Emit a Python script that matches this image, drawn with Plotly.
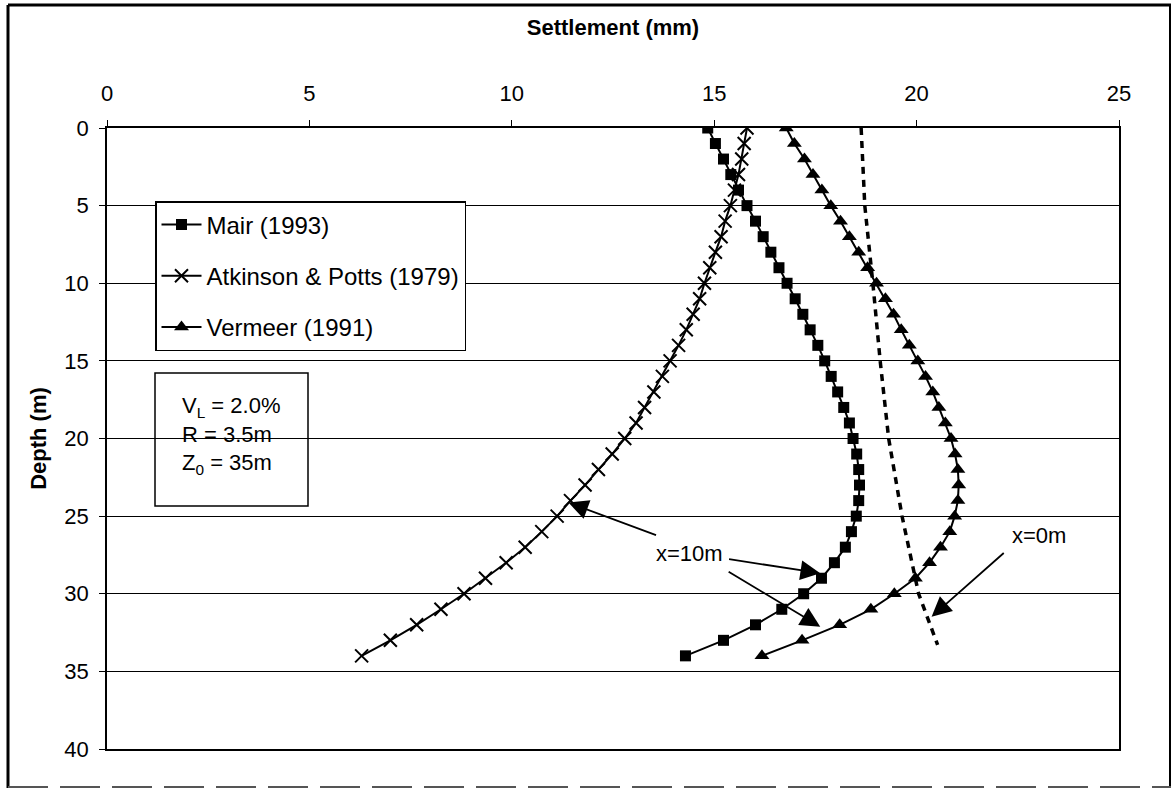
import plotly.graph_objects as go

# ---- data ----
depth = list(range(0, 35))
mair = [14.84, 15.03, 15.23, 15.41, 15.60, 15.81, 16.02, 16.21, 16.40, 16.60,
        16.80, 17.00, 17.19, 17.37, 17.56, 17.73, 17.89, 18.05, 18.20, 18.34,
        18.43, 18.52, 18.57, 18.59, 18.57, 18.51, 18.39, 18.24, 17.97, 17.65,
        17.21, 16.67, 16.02, 15.23, 14.29]
atkinson = [15.81, 15.74, 15.68, 15.60, 15.50, 15.40, 15.27, 15.17, 15.03, 14.89,
            14.76, 14.64, 14.48, 14.31, 14.12, 13.91, 13.72, 13.51, 13.28, 13.07,
            12.79, 12.48, 12.14, 11.81, 11.45, 11.12, 10.74, 10.33, 9.86, 9.35,
            8.82, 8.25, 7.65, 7.00, 6.29]
vermeer = [16.78, 16.98, 17.23, 17.44, 17.66, 17.88, 18.12, 18.34, 18.57, 18.79,
           19.01, 19.23, 19.43, 19.62, 19.82, 20.03, 20.22, 20.40, 20.55, 20.71,
           20.85, 20.95, 21.02, 21.04, 21.02, 20.94, 20.82, 20.59, 20.32, 19.97,
           19.45, 18.87, 18.10, 17.17, 16.18]
dash_depth = [0, 5, 10, 15, 20, 25, 30, 33.3]
dash_x = [18.63, 18.72, 18.92, 19.10, 19.31, 19.64, 20.05, 20.52]

x_ticks = [0, 5, 10, 15, 20, 25]
y_ticks = [0, 5, 10, 15, 20, 25, 30, 35, 40]

FONT = "Arial, Liberation Sans, sans-serif"

fig = go.Figure()
fig.add_trace(go.Scatter(
    x=mair, y=depth, mode="lines+markers", name="Mair (1993)",
    line=dict(color="black", width=2),
    marker=dict(symbol="square", size=11, color="black"),
    legendgroup="a"))
fig.add_trace(go.Scatter(
    x=atkinson, y=depth, mode="lines+markers", name="Atkinson & Potts (1979)",
    line=dict(color="black", width=2),
    marker=dict(symbol="x-thin-open", size=13, color="black",
                line=dict(color="black", width=2)),
    legendgroup="b"))
fig.add_trace(go.Scatter(
    x=vermeer, y=depth, mode="lines+markers", name="Vermeer (1991)",
    line=dict(color="black", width=2),
    marker=dict(symbol="triangle-up", size=13, color="black"),
    legendgroup="c"))
fig.add_trace(go.Scatter(
    x=dash_x, y=dash_depth, mode="lines", showlegend=False,
    line=dict(color="black", width=3.5, dash="7px,6px")))

# annotations
annos = []
annos.append(dict(x=14.39, y=27.38, xref="x", yref="y", text="x=10m",
                  showarrow=False, font=dict(size=22, color="black", family=FONT)))
annos.append(dict(x=23.03, y=26.22, xref="x", yref="y", text="x=0m",
                  showarrow=False, font=dict(size=22, color="black", family=FONT)))
arrows = [
    ((13.60, 26.26), (11.40, 24.13)),
    ((15.33, 27.76), (17.62, 28.68)),
    ((15.32, 28.53), (17.62, 32.12)),
    ((22.19, 27.29), (20.37, 31.48)),
]
for (tx, ty), (hx, hy) in arrows:
    annos.append(dict(x=hx, y=hy, ax=tx, ay=ty, xref="x", yref="y",
                      axref="x", ayref="y", text="", showarrow=True,
                      arrowhead=2, arrowsize=2.2, arrowwidth=1.8,
                      arrowcolor="black", standoff=0))
annos.append(dict(x=(180 - 107) / 1012, y=(749 - 435) / 621, xref="paper", yref="paper",
                  xanchor="left", yanchor="middle", align="left", showarrow=False,
                  text="V<sub>L</sub> = 2.0%<br>R = 3.5m<br>Z<sub>0</sub> = 35m",
                  font=dict(size=22, color="black", family=FONT)))

def px_x(p):
    return (p - 107) / 1012

def px_y(p):
    return (749 - p) / 621

shapes = [
    # parameter box
    dict(type="rect", xref="paper", yref="paper",
         x0=px_x(155), x1=px_x(308), y0=px_y(506), y1=px_y(373),
         line=dict(color="black", width=1.5), fillcolor="white", layer="below"),
    # outer frame
    dict(type="line", xref="paper", yref="paper", x0=px_x(8), x1=px_x(1171),
         y0=px_y(5), y1=px_y(5), line=dict(color="black", width=3)),
    dict(type="line", xref="paper", yref="paper", x0=px_x(8), x1=px_x(8),
         y0=px_y(5), y1=px_y(788), line=dict(color="black", width=3)),
    dict(type="line", xref="paper", yref="paper", x0=px_x(1170), x1=px_x(1170),
         y0=px_y(5), y1=px_y(788), line=dict(color="black", width=2)),
    dict(type="line", xref="paper", yref="paper", x0=px_x(8), x1=px_x(1171),
         y0=px_y(787), y1=px_y(787), line=dict(color="#555555", width=2, dash="40px,12px")),
]

fig.update_layout(
    width=1172, height=788,
    margin=dict(l=107, r=53, t=128, b=39),
    paper_bgcolor="white", plot_bgcolor="white",
    font=dict(family=FONT, size=22, color="black"),
    showlegend=True,
    legend=dict(x=px_x(155), y=px_y(201), xanchor="left", yanchor="top",
                bgcolor="white", bordercolor="black", borderwidth=1.5,
                font=dict(size=24, family=FONT, color="black"),
                itemwidth=40,
                tracegroupgap=17, traceorder="grouped"),
    annotations=annos,
    shapes=shapes,
    xaxis=dict(side="top", range=[0, 25], tickvals=x_ticks, ticks="outside",
               ticklen=6, tickcolor="black", showgrid=False, zeroline=False,
               showline=True, linecolor="black", linewidth=1.5, mirror=True,
               ticklabelstandoff=10,
               title=dict(text="<b>Settlement (mm)</b>", standoff=40,
                          font=dict(size=22, family=FONT))),
    yaxis=dict(range=[40, 0], tickvals=y_ticks, ticks="outside", ticklen=6,
               tickcolor="black", showgrid=True, gridcolor="black", gridwidth=1,
               zeroline=False, showline=True, linecolor="black", linewidth=1.5,
               mirror=True, ticklabelstandoff=6,
               title=dict(text="<b>Depth (m)</b>", standoff=12,
                          font=dict(size=22, family=FONT))),
)

fig.write_html("out.html")
